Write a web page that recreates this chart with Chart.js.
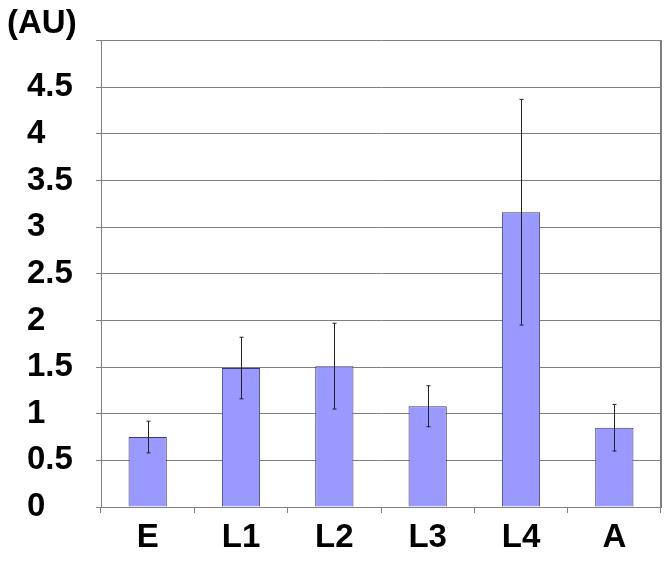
<!DOCTYPE html>
<html lang="en">
<head>
    <meta charset="UTF-8">
    <title>AU bar chart</title>
    <style>
        html, body { margin: 0; padding: 0; background: #fff; }
        #chart-container { width: 670px; height: 561px; }
    </style>
    <script src="https://cdn.jsdelivr.net/npm/chart.js"></script>
</head>
<body>
    <div id="chart-container">
        <canvas id="auChart"></canvas>
    </div>

    <script>
        // Values
        const groups = ['E', 'L1', 'L2', 'L3', 'L4', 'A'];
        const means = [0.75, 1.49, 1.51, 1.08, 3.16, 0.85];
        const errors = [0.17, 0.33, 0.46, 0.22, 1.21, 0.25];
        const yTicks = [0, 0.5, 1, 1.5, 2, 2.5, 3, 3.5, 4, 4.5, 5];

        const labelFont = { family: '"Liberation Sans", Arial, sans-serif', size: 33, weight: 'bold' };
        const lineGrey = '#7f7f7f';

        // Draws the +/- error whiskers on top of each bar
        const errorBars = {
            id: 'errorBars',
            afterDatasetsDraw(chart) {
                const ctx = chart.ctx;
                const xs = chart.scales.x;
                const ys = chart.scales.y;
                ctx.save();
                ctx.strokeStyle = '#222';
                ctx.lineWidth = 1;
                means.forEach((m, i) => {
                    const x = Math.round(xs.getPixelForValue(i)) + 0.5;
                    const top = ys.getPixelForValue(m + errors[i]);
                    const bot = ys.getPixelForValue(m - errors[i]);
                    ctx.beginPath();
                    ctx.moveTo(x, top);
                    ctx.lineTo(x, bot);
                    ctx.moveTo(x - 2, top);
                    ctx.lineTo(x + 2, top);
                    ctx.moveTo(x - 2, bot);
                    ctx.lineTo(x + 2, bot);
                    ctx.stroke();
                });
                ctx.restore();
            }
        };

        // The unit label sits further left than the tick labels
        const moveTitle = {
            id: 'moveTitle',
            afterLayout(chart) {
                const t = chart.titleBlock;
                if (!t) return;
                const dx = 7 - t.left;
                t.left += dx;
                t.right += dx;
                t.top += 3;
                t.bottom += 3;
            }
        };

        const ctx = document.getElementById('auChart').getContext('2d');
        new Chart(ctx, {
            type: 'bar',
            data: {
                labels: groups,
                datasets: [{
                    data: means,
                    backgroundColor: '#9999ff',
                    borderColor: '#3a3a6e',
                    borderWidth: 1,
                    barPercentage: 0.41,
                    categoryPercentage: 1
                }]
            },
            options: {
                responsive: true,
                maintainAspectRatio: false,
                animation: false,
                layout: { padding: { left: 27, right: 9, top: 0, bottom: 3 } },
                plugins: {
                    legend: { display: false },
                    tooltip: { enabled: false },
                    title: {
                        display: true,
                        text: '(AU)',
                        align: 'start',
                        color: '#000',
                        font: labelFont,
                        padding: { top: 1, bottom: 0 }
                    }
                },
                scales: {
                    x: {
                        offset: true,
                        afterFit(scale) { scale.height = 51; },
                        grid: {
                            drawOnChartArea: false,
                            color: lineGrey,
                            tickLength: 6
                        },
                        border: { color: lineGrey },
                        ticks: { color: '#000', font: labelFont, padding: 5 }
                    },
                    y: {
                        min: 0,
                        max: 5,
                        afterBuildTicks(scale) {
                            scale.ticks = yTicks.map(v => ({ value: v }));
                        },
                        afterFit(scale) { scale.width = 74; },
                        grid: { color: lineGrey, tickLength: 5 },
                        border: { color: lineGrey },
                        ticks: {
                            color: '#000',
                            font: labelFont,
                            crossAlign: 'far',
                            callback: v => (v === 5 ? '' : String(v))
                        }
                    },
                    yRight: {
                        position: 'right',
                        min: 0,
                        max: 5,
                        grid: { display: false, drawTicks: false },
                        border: { color: lineGrey, width: 2 },
                        ticks: { display: false },
                        afterFit(scale) { scale.width = 0; }
                    }
                }
            },
            plugins: [errorBars, moveTitle]
        });
    </script>
</body>
</html>
